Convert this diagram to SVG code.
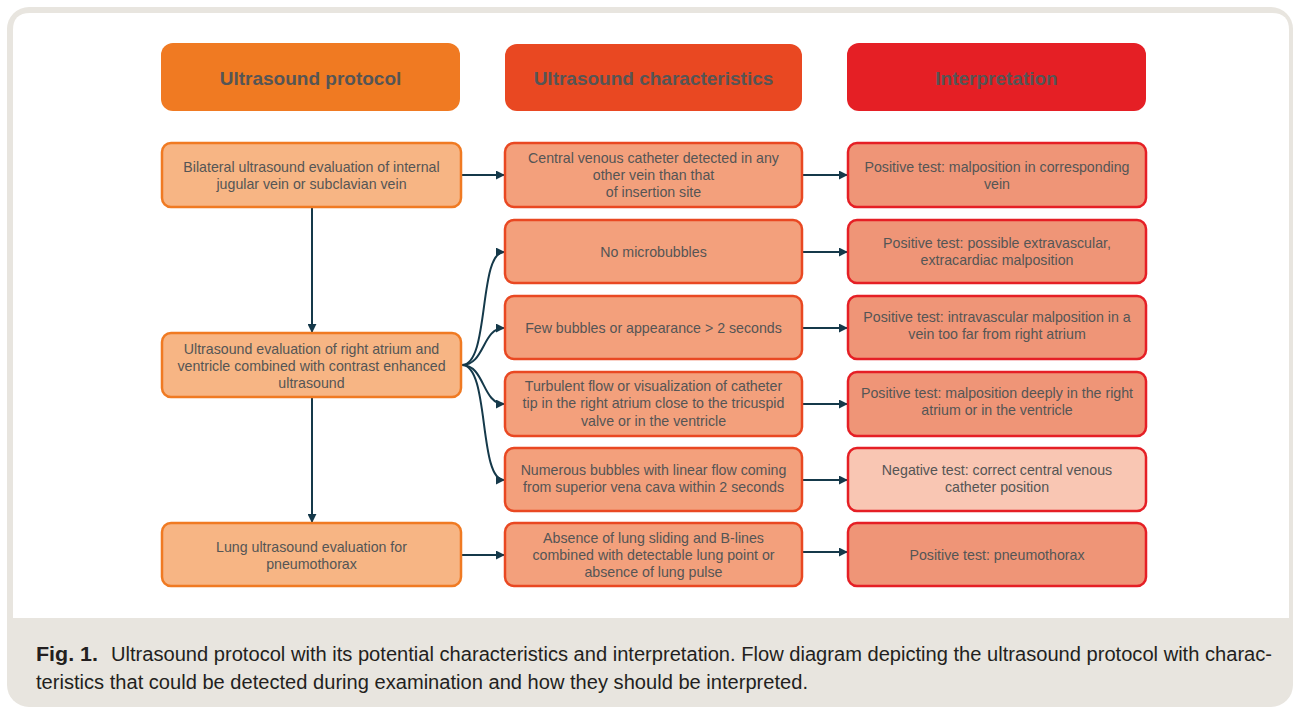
<svg xmlns="http://www.w3.org/2000/svg" width="1298" height="711" viewBox="0 0 1298 711">
<defs>
<style>
.t{font-family:"Liberation Sans",Arial,sans-serif;font-size:14.2px;fill:#555555;text-anchor:middle}
.h{font-family:"Liberation Sans",Arial,sans-serif;font-size:19px;font-weight:bold;fill:#555555;text-anchor:middle}
.c1{fill:#f7b584;stroke:#f07a22;stroke-width:2.5}
.c2{fill:#f3a07c;stroke:#e94822;stroke-width:2.5}
.c3{fill:#ef9577;stroke:#e51f25;stroke-width:2.5}
.c3n{fill:#f9c6b3;stroke:#e51f25;stroke-width:2.5}
.cn{fill:none;stroke:#15394a;stroke-width:2}
.cap{font-family:"Liberation Sans",Arial,sans-serif;font-size:19.5px;fill:#231f20}
</style>
<marker id="ah" viewBox="0 0 10 10" refX="9" refY="5" markerWidth="4.5" markerHeight="4.5" orient="auto">
<path d="M0,0 L10,5 L0,10 z" fill="#15394a"/>
</marker>
</defs>
<rect x="0" y="0" width="1298" height="711" fill="#ffffff"/>
<rect x="7" y="7" width="1286" height="700" rx="22" fill="#e8e5df"/>
<path d="M13,30 Q13,13 30,13 L1272,13 Q1289,13 1289,30 L1289,618 L13,618 Z" fill="#ffffff"/>

<g id="hdr1"><rect x="161" y="43" width="299" height="68" rx="12" fill="#f07a22"/><text class="h" x="310.5" y="84.5">Ultrasound protocol</text></g>
<g id="hdr2"><rect x="505" y="44" width="297" height="67" rx="12" fill="#e94822"/><text class="h" x="653.5" y="84.5">Ultrasound characteristics</text></g>
<g id="hdr3"><rect x="847" y="43" width="299" height="68" rx="12" fill="#e51f25"/><text class="h" x="996.5" y="84.5">Interpretation</text></g>

<g id="connectors">
<line class="cn" x1="461" y1="175" x2="504" y2="175" marker-end="url(#ah)"/>
<line class="cn" x1="802" y1="175" x2="847" y2="175" marker-end="url(#ah)"/>
<line class="cn" x1="312" y1="208" x2="312" y2="332" marker-end="url(#ah)"/>
<line class="cn" x1="312" y1="398" x2="312" y2="522" marker-end="url(#ah)"/>
<path class="cn" d="M462,365 C490,365 478,252 504,252" marker-end="url(#ah)"/>
<path class="cn" d="M462,365 C485,365 482,328 504,328" marker-end="url(#ah)"/>
<path class="cn" d="M462,365 C485,365 482,404 504,404" marker-end="url(#ah)"/>
<path class="cn" d="M462,365 C490,365 478,480 504,480" marker-end="url(#ah)"/>
<line class="cn" x1="802" y1="252" x2="847" y2="252" marker-end="url(#ah)"/>
<line class="cn" x1="802" y1="328" x2="847" y2="328" marker-end="url(#ah)"/>
<line class="cn" x1="802" y1="404" x2="847" y2="404" marker-end="url(#ah)"/>
<line class="cn" x1="802" y1="480" x2="847" y2="480" marker-end="url(#ah)"/>
<line class="cn" x1="461" y1="555" x2="504" y2="555" marker-end="url(#ah)"/>
<line class="cn" x1="802" y1="552" x2="847" y2="552" marker-end="url(#ah)"/>
</g>

<g id="p1"><rect class="c1" x="162" y="143" width="299" height="64" rx="9"/><text class="t" x="311.5" y="171.5">Bilateral ultrasound evaluation of internal</text><text class="t" x="311.5" y="188.5">jugular vein or subclavian vein</text></g>
<g id="p2"><rect class="c1" x="162" y="333" width="299" height="64" rx="9"/><text class="t" x="311.5" y="353.5">Ultrasound evaluation of right atrium and</text><text class="t" x="311.5" y="370.5">ventricle combined with contrast enhanced</text><text class="t" x="311.5" y="387.5">ultrasound</text></g>
<g id="p3"><rect class="c1" x="162" y="523" width="299" height="63" rx="9"/><text class="t" x="311.5" y="551.5">Lung ultrasound evaluation for</text><text class="t" x="311.5" y="568.5">pneumothorax</text></g>

<g id="u1"><rect class="c2" x="505" y="143" width="297" height="64" rx="9"/><text class="t" x="653.5" y="162.5">Central venous catheter detected in any</text><text class="t" x="653.5" y="179.5">other vein than that</text><text class="t" x="653.5" y="196.5">of insertion site</text></g>
<g id="u2"><rect class="c2" x="505" y="220" width="297" height="63" rx="9"/><text class="t" x="653.5" y="256.5">No microbubbles</text></g>
<g id="u3"><rect class="c2" x="505" y="296" width="297" height="63" rx="9"/><text class="t" x="653.5" y="332.5">Few bubbles or appearance &gt; 2 seconds</text></g>
<g id="u4"><rect class="c2" x="505" y="372" width="297" height="64" rx="9"/><text class="t" x="653.5" y="390.5">Turbulent flow or visualization of catheter</text><text class="t" x="653.5" y="408">tip in the right atrium close to the tricuspid</text><text class="t" x="653.5" y="425.5">valve or in the ventricle</text></g>
<g id="u5"><rect class="c2" x="505" y="448" width="297" height="63" rx="9"/><text class="t" x="653.5" y="474.5">Numerous bubbles with linear flow coming</text><text class="t" x="653.5" y="491.5">from superior vena cava within 2 seconds</text></g>
<g id="u6"><rect class="c2" x="505" y="523" width="297" height="63" rx="9"/><text class="t" x="653.5" y="542.5">Absence of lung sliding and B-lines</text><text class="t" x="653.5" y="559.5">combined with detectable lung point or</text><text class="t" x="653.5" y="576.5">absence of lung pulse</text></g>

<g id="i1"><rect class="c3" x="848" y="143" width="298" height="64" rx="9"/><text class="t" x="997" y="171.5">Positive test: malposition in corresponding</text><text class="t" x="997" y="188.5">vein</text></g>
<g id="i2"><rect class="c3" x="848" y="220" width="298" height="63" rx="9"/><text class="t" x="997" y="247.5">Positive test: possible extravascular,</text><text class="t" x="997" y="265">extracardiac malposition</text></g>
<g id="i3"><rect class="c3" x="848" y="296" width="298" height="63" rx="9"/><text class="t" x="997" y="321.5">Positive test: intravascular malposition in a</text><text class="t" x="997" y="338.5">vein too far from right atrium</text></g>
<g id="i4"><rect class="c3" x="848" y="372" width="298" height="64" rx="9"/><text class="t" x="997" y="397.5">Positive test: malposition deeply in the right</text><text class="t" x="997" y="414.5">atrium or in the ventricle</text></g>
<g id="i5"><rect class="c3n" x="848" y="448" width="298" height="63" rx="9"/><text class="t" x="997" y="474.5">Negative test: correct central venous</text><text class="t" x="997" y="491.5">catheter position</text></g>
<g id="i6"><rect class="c3" x="848" y="523" width="298" height="63" rx="9"/><text class="t" x="997" y="559.5">Positive test: pneumothorax</text></g>

<g id="caption">
<text class="cap" x="36" y="661" font-weight="bold" textLength="62" lengthAdjust="spacingAndGlyphs">Fig. 1.</text>
<text class="cap" x="111" y="661" textLength="1161" lengthAdjust="spacingAndGlyphs">Ultrasound protocol with its potential characteristics and interpretation. Flow diagram depicting the ultrasound protocol with charac-</text>
<text class="cap" x="36" y="689" textLength="772" lengthAdjust="spacingAndGlyphs">teristics that could be detected during examination and how they should be interpreted.</text>
</g>
</svg>
